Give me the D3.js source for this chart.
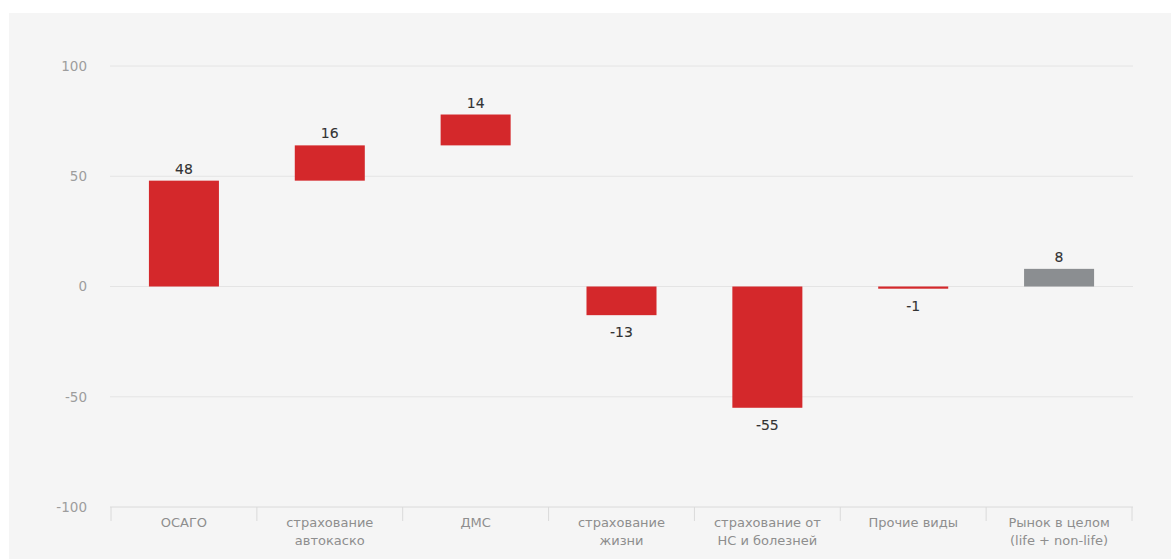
<!DOCTYPE html>
<html>
<head>
<meta charset="utf-8">
<script src="https://cdn.jsdelivr.net/npm/d3@7"></script>
<style>
  html, body { margin: 0; padding: 0; background: #ffffff; }
  svg { display: block; }
</style>
</head>
<body>
<svg id="chart" width="1174" height="559"></svg>
<script>
// Change by insurance line (values and where each bar starts)
const categories = [
  "ОСАГО",
  "страхование автокаско",
  "ДМС",
  "страхование жизни",
  "страхование от НС и болезней",
  "Прочие виды",
  "Рынок в целом (life + non-life)"
];
const categoryLines = [
  ["ОСАГО"],
  ["страхование", "автокаско"],
  ["ДМС"],
  ["страхование", "жизни"],
  ["страхование от", "НС и болезней"],
  ["Прочие виды"],
  ["Рынок в целом", "(life + non-life)"]
];
const changes   = [48, 16, 14, -13, -55, -1, 8];
const barStarts = [0, 48, 64, 0, 0, 0, 0];
const isTotal   = [false, false, false, false, false, false, true];
const yTicks    = [-100, -50, 0, 50, 100];

const FONT = "'DejaVu Sans', sans-serif";
const H = 559;
const svg = d3.select("#chart");

// light panel behind the chart
svg.append("rect")
  .attr("x", 9).attr("y", 13)
  .attr("width", 1162).attr("height", H - 13)
  .attr("fill", "#f5f5f5");

const y = d3.scaleLinear().domain([-100, 100]).range([507, 66]);
const x = d3.scaleBand().domain(categories).range([111, 1132]).padding(0);
const barW = x.bandwidth() * 0.48;

// horizontal grid lines
svg.append("g")
  .selectAll("line")
  .data(yTicks)
  .join("line")
  .attr("x1", 110).attr("x2", 1133)
  .attr("y1", d => y(d)).attr("y2", d => y(d))
  .attr("stroke", d => d === -100 ? "#dadada" : "#e4e4e4")
  .attr("stroke-width", 1);

// y axis labels (plain hyphen for negatives)
const yAxis = d3.axisLeft(y)
  .tickValues(yTicks)
  .tickSize(0)
  .tickPadding(0)
  .tickFormat(d => String(d));
svg.append("g")
  .attr("transform", "translate(87,0)")
  .call(yAxis)
  .call(g => g.select(".domain").remove())
  .call(g => g.selectAll("text")
    .attr("fill", "#9d9d9d")
    .attr("font-family", FONT)
    .attr("font-size", 13.5));

// category separators below the baseline
const bounds = categories.map(c => x(c)).concat([x.range()[1]]);
svg.append("g")
  .selectAll("line")
  .data(bounds)
  .join("line")
  .attr("x1", d => d).attr("x2", d => d)
  .attr("y1", y(-100)).attr("y2", y(-100) + 14)
  .attr("stroke", "#dadada")
  .attr("stroke-width", 1);

// category labels
const catG = svg.append("g")
  .attr("font-family", FONT)
  .attr("font-size", 13)
  .attr("fill", "#8e8e8e")
  .attr("text-anchor", "middle");
categories.forEach((c, i) => {
  const cx = x(c) + x.bandwidth() / 2;
  const t = catG.append("text").attr("x", cx).attr("y", 527);
  categoryLines[i].forEach((ln, j) => {
    t.append("tspan")
      .attr("x", cx)
      .attr("dy", j === 0 ? 0 : 18)
      .text(ln);
  });
});

// bars
const bars = categories.map((c, i) => ({
  cat: c,
  start: barStarts[i],
  end: barStarts[i] + changes[i],
  value: changes[i],
  total: isTotal[i]
}));

svg.append("g")
  .selectAll("rect")
  .data(bars)
  .join("rect")
  .attr("x", d => x(d.cat) + (x.bandwidth() - barW) / 2)
  .attr("width", barW)
  .attr("y", d => y(Math.max(d.start, d.end)))
  .attr("height", d => Math.abs(y(d.start) - y(d.end)))
  .attr("fill", d => d.total ? "#8b8e91" : "#d4282b");

// value labels
svg.append("g")
  .attr("font-family", FONT)
  .attr("font-size", 14)
  .attr("fill", "#333333")
  .attr("stroke", "#333333")
  .attr("stroke-width", 0.1)
  .attr("text-anchor", "middle")
  .selectAll("text")
  .data(bars)
  .join("text")
  .attr("x", d => x(d.cat) + x.bandwidth() / 2)
  .attr("y", d => d.value >= 0 ? y(d.end) - 7 : y(d.end) + 22)
  .text(d => String(d.value));
</script>
</body>
</html>
